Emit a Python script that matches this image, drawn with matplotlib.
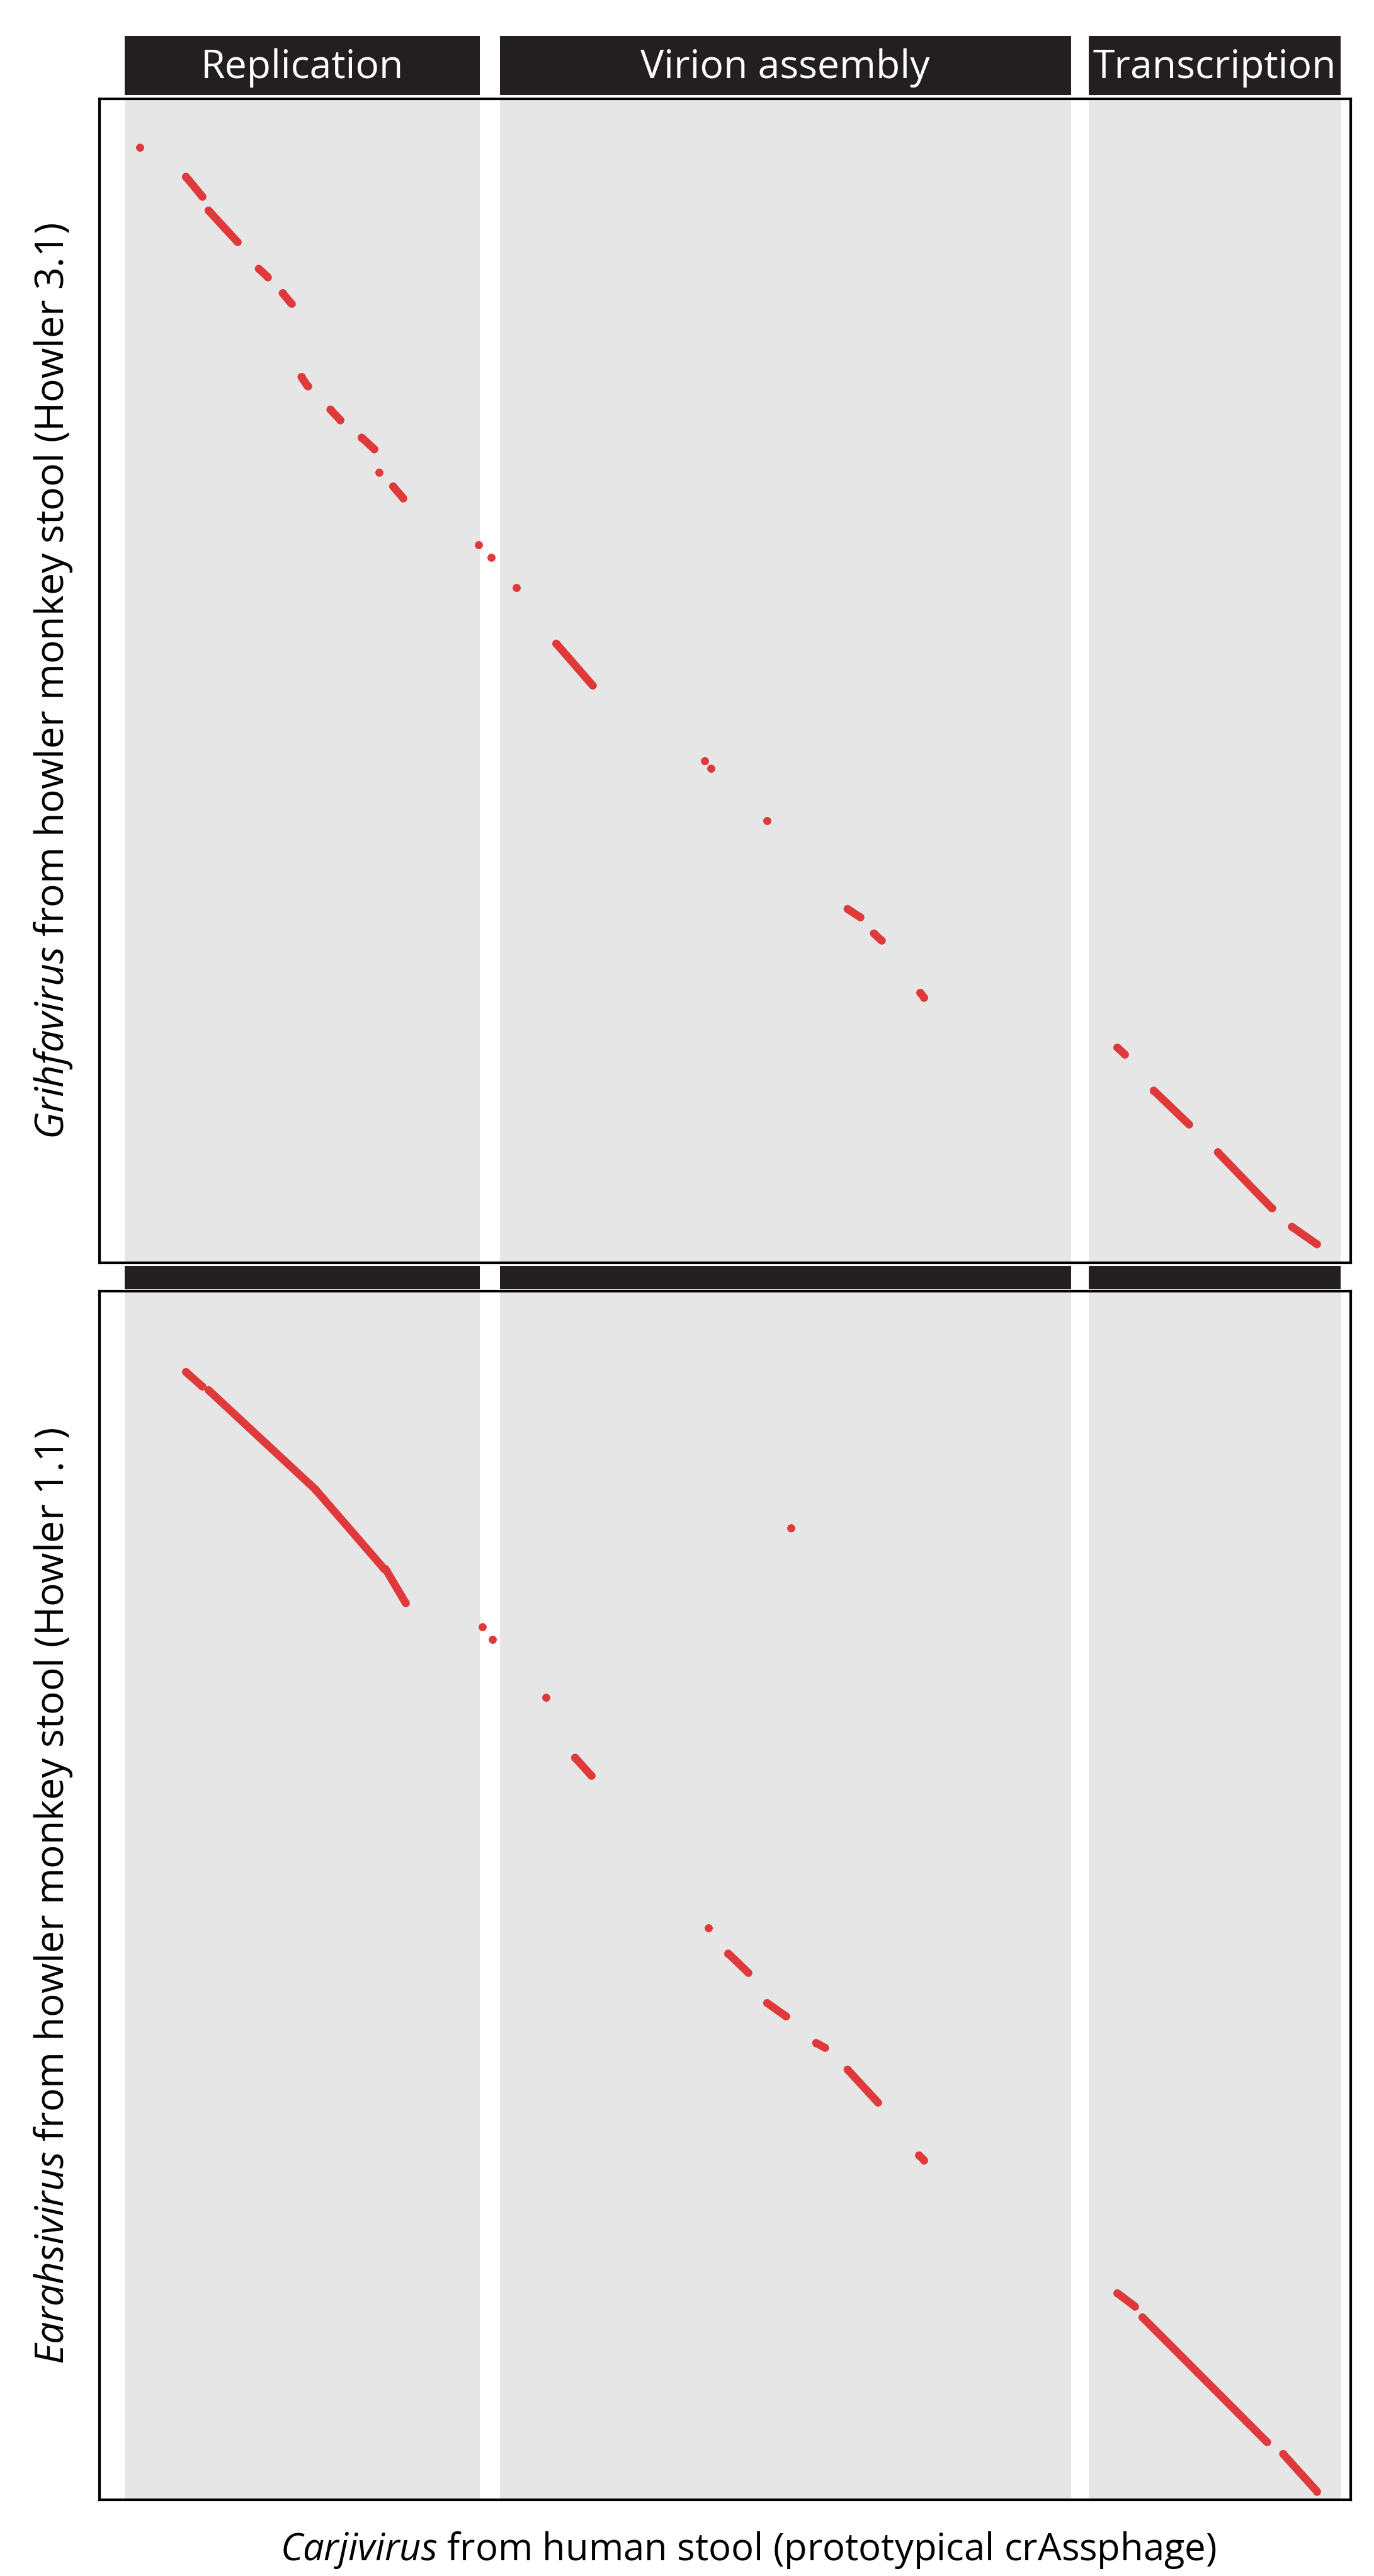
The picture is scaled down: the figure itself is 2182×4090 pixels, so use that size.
import matplotlib
matplotlib.use("Agg")
import matplotlib.pyplot as plt

plt.rcParams['font.family'] = ['Open Sans', 'DejaVu Sans']
plt.rcParams['mathtext.fontset'] = 'custom'
plt.rcParams['mathtext.it'] = 'Open Sans:italic'

modules = ["Replication", "Virion assembly", "Transcription"]
module_start = [2.0, 31.9, 78.8]
module_end = [30.3, 77.4, 98.9]

# segments: (x0, y0, x1, y1) in kb
p1_x0 = [3.2, 6.9, 8.7, 12.7, 14.6, 16.1, 18.4, 20.9, 22.3, 23.4, 30.2, 31.2, 33.2, 36.4, 48.2, 48.7, 53.2, 59.6, 61.7, 65.4, 81.1, 84.0, 89.1, 95.0]
p1_y0 = [4.2, 6.7, 9.6, 14.6, 16.7, 23.9, 26.7, 29.1, 32.1, 33.3, 38.3, 39.4, 42.0, 46.8, 56.9, 57.5, 62.0, 69.6, 71.7, 76.8, 81.5, 85.2, 90.5, 96.9]
p1_x1 = [3.2, 8.2, 11.0, 13.4, 15.3, 16.6, 19.2, 21.9, 22.3, 24.2, 30.2, 31.2, 33.2, 39.3, 48.2, 48.7, 53.2, 60.6, 62.3, 65.7, 81.7, 86.8, 93.4, 97.0]
p1_y1 = [4.2, 8.4, 12.3, 15.3, 17.6, 24.7, 27.6, 30.1, 32.1, 34.3, 38.3, 39.4, 42.0, 50.4, 56.9, 57.5, 62.0, 70.3, 72.3, 77.2, 82.1, 88.1, 95.3, 98.4]

p2_x0 = [6.9, 8.7, 17.2, 22.8, 30.5, 31.3, 35.6, 37.9, 55.1, 48.5, 50.1, 53.2, 57.1, 59.6, 65.3, 81.1, 83.1, 94.3]
p2_y0 = [6.7, 8.2, 16.4, 23.0, 27.8, 28.8, 33.6, 38.6, 19.6, 52.7, 54.8, 58.9, 62.2, 64.4, 71.5, 82.9, 84.9, 96.2]
p2_x1 = [8.2, 17.2, 22.7, 24.4, 30.5, 31.3, 35.6, 39.2, 55.1, 48.5, 51.7, 54.7, 57.8, 62.0, 65.7, 82.5, 93.0, 97.0]
p2_y1 = [7.9, 16.4, 23.0, 25.8, 27.8, 28.8, 33.6, 40.1, 19.6, 52.7, 56.4, 60.0, 62.6, 67.1, 71.9, 84.0, 95.2, 99.3]

ylabels = [r"$\it{Grihfavirus}$ from howler monkey stool (Howler 3.1)",
           r"$\it{Earahsivirus}$ from howler monkey stool (Howler 1.1)"]
xlabel = r"$\it{Carjivirus}$ from human stool (prototypical crAssphage)"

W, H = 830.0, 1556.0
fig = plt.figure(figsize=(21.82, 40.91), dpi=100)

def fx(px): return px / W
def fy(py): return 1 - py / H

panels = [(60, 763, 22, 58, True, p1_x0, p1_y0, p1_x1, p1_y1),
          (780, 1510, 765, 779, False, p2_x0, p2_y0, p2_x1, p2_y1)]
red = "#e0393b"
for i, (top, bot, htop, hbot, showtxt, x0, y0, x1, y1) in enumerate(panels):
    ax = fig.add_axes([fx(60), fy(bot), fx(816) - fx(60), fy(top) - fy(bot)])
    ax.set_xlim(0, 99.7)
    ax.set_ylim(100, 0)
    for s, e in zip(module_start, module_end):
        ax.axvspan(s, e, color="#e6e6e6", lw=0, zorder=0)
    for a, b, c, d in zip(x0, y0, x1, y1):
        ax.plot([a, c], [b, d], color=red, lw=9, solid_capstyle='round',
                marker='o', ms=9, mew=0, zorder=3)
    ax.set_xticks([]); ax.set_yticks([])
    for sp in ax.spines.values():
        sp.set_linewidth(3); sp.set_color("black")
    hax = fig.add_axes([fx(60), fy(hbot), fx(816) - fx(60), fy(htop) - fy(hbot)])
    hax.set_xlim(0, 99.7); hax.set_ylim(0, 1); hax.axis('off')
    for name, s, e in zip(modules, module_start, module_end):
        hax.axvspan(s, e, color="#231f20", lw=0)
        if showtxt:
            hax.text((s + e) / 2, 0.47, name, color="white", ha='center', va='center', fontsize=45)
    fig.text(fx(32), fy((top + bot) / 2), ylabels[i], rotation=90, ha='center', va='center', fontsize=45)

fig.text(fx(452), fy(1540), xlabel, ha='center', va='center', fontsize=43)
fig.savefig("out.png", dpi=100, facecolor='white')
